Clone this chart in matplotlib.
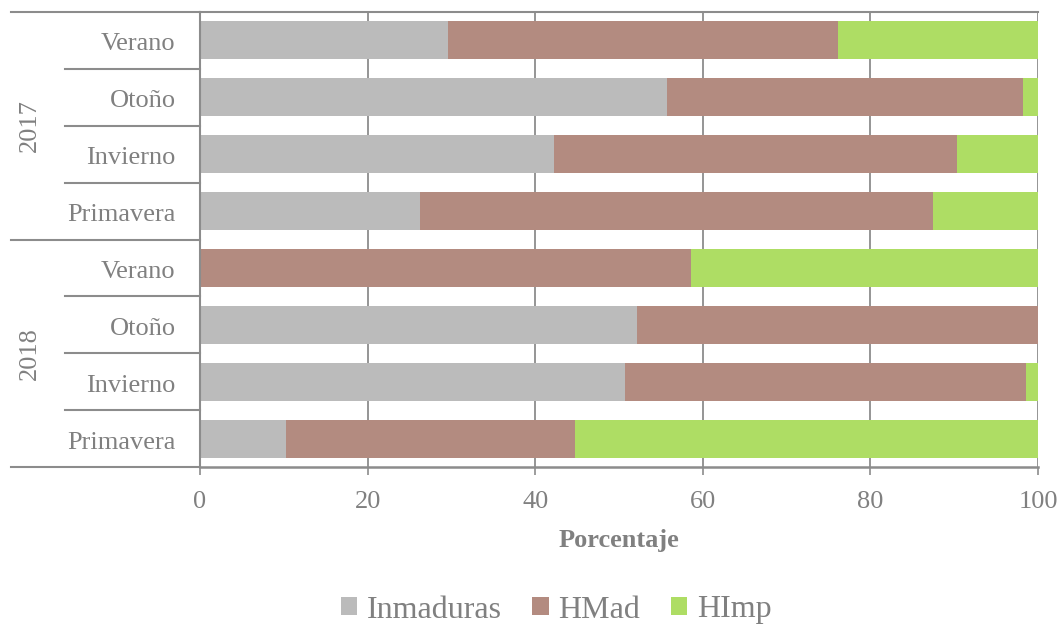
import matplotlib
matplotlib.use("Agg")
import matplotlib.pyplot as plt
from matplotlib.patches import Patch
import matplotlib.transforms as mtransforms

plt.rcParams['font.family'] = ['Liberation Serif', 'DejaVu Serif']

seasons = ["Verano", "Otoño", "Invierno", "Primavera",
           "Verano", "Otoño", "Invierno", "Primavera"]
years = ["2017", "2018"]
inmaduras = [29.6, 55.7, 42.2, 26.3, 0.0, 52.1, 50.7, 10.3]
hmad = [46.5, 42.5, 48.1, 61.2, 58.6, 47.9, 47.9, 34.5]
himp = [100 - a - b for a, b in zip(inmaduras, hmad)]
series_names = ["Inmaduras", "HMad", "HImp"]
colors = ["#BBBBBB", "#B38B80", "#AEDD64"]
xticks = [0, 20, 40, 60, 80, 100]

txt = "#808080"
line = "#8C8C8C"
fs = 19

fig = plt.figure(figsize=(10.62, 6.27), dpi=100)
ax = fig.add_axes([200/1062, 1 - 467/627, 838/1062, 455/627])

ypos = list(range(len(seasons)))
left = [0.0] * len(seasons)
for vals, name, col in zip([inmaduras, hmad, himp], series_names, colors):
    ax.barh(ypos, vals, left=left, height=0.67, color=col, label=name, zorder=2)
    left = [l + v for l, v in zip(left, vals)]

ax.set_xlim(0, 100)
ax.set_ylim(7.5, -0.5)
ax.set_xticks(xticks)
ax.set_xticklabels([str(t) for t in xticks])
ax.tick_params(axis='x', direction='out', length=6, width=1.2, color=line,
               labelsize=fs, labelcolor=txt, pad=11)
ax.set_yticks([])
ax.xaxis.grid(True, color=line, linewidth=1.3, zorder=0)
ax.set_axisbelow(True)
for s in ['top', 'right']:
    ax.spines[s].set_visible(False)
ax.spines['left'].set_color(line)
ax.spines['left'].set_linewidth(1.5)
ax.spines['bottom'].set_color(line)
ax.spines['bottom'].set_linewidth(1.8)

trans = mtransforms.blended_transform_factory(ax.transAxes, ax.transData)
ax.plot([0, 1], [-0.5, -0.5], transform=trans, color=line, lw=1.5, clip_on=False, zorder=3)

# category labels
for i, s in enumerate(seasons):
    ax.text(-0.029, i + 0.07, s, transform=trans, ha='right', va='center',
            fontsize=fs, color=txt)
# separators
for b in [0.5, 1.5, 2.5, 4.5, 5.5, 6.5]:
    ax.plot([-0.161, 0], [b, b], transform=trans, color=line, lw=1.5, clip_on=False)
for b in [-0.5, 3.5, 7.5]:
    ax.plot([-0.2255, 0], [b, b], transform=trans, color=line, lw=1.5, clip_on=False)
# year labels
for j, y in enumerate(years):
    ax.text(-0.203, 1.5 + 4 * j, y, transform=trans, ha='center', va='center',
            rotation=90, fontsize=fs, color=txt)

ax.set_xlabel("Porcentaje", fontsize=fs, fontweight='bold', color=txt, labelpad=12)

handles = [Patch(facecolor=c, edgecolor='none') for c in colors]
fig.legend(handles, series_names, loc='center', bbox_to_anchor=(556/1062, 1 - 610/627),
           ncol=3, frameon=False, fontsize=23, labelcolor=txt,
           handlelength=0.52, handleheight=0.52, handletextpad=0.3, columnspacing=0.95)

fig.savefig("out.png", dpi=100)
